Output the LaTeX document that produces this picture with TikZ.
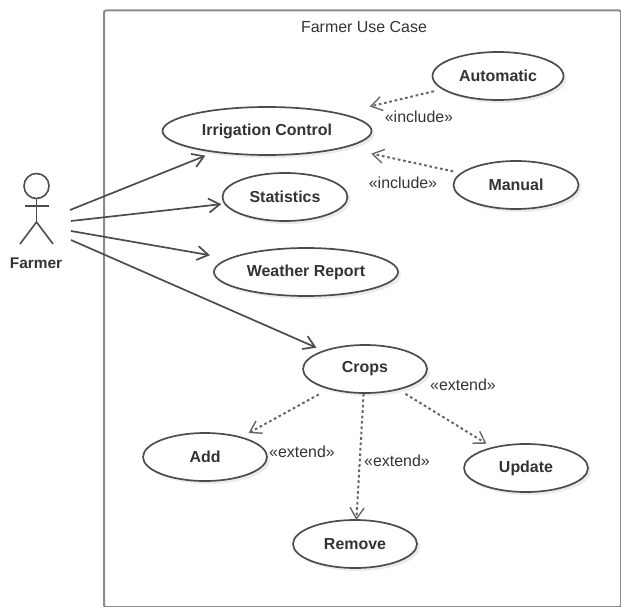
\documentclass[tikz,border=0pt]{standalone}
\usepackage{fontspec}
\setmainfont{Liberation Sans}
\usetikzlibrary{arrows.meta,shapes.geometric,shadows}
\definecolor{ink}{gray}{0.3}
\definecolor{txt}{gray}{0.2}
\definecolor{frameg}{gray}{0.55}
\tikzset{
  usecase/.style={ellipse,draw=ink,line width=1.7bp,fill=white,inner sep=0pt,outer sep=0pt,
    minimum height=48bp,text=txt,font=\fontsize{16}{18}\selectfont\bfseries,
    drop shadow={shadow xshift=3bp,shadow yshift=-3bp,fill=black,opacity=0.08}},
  assoc/.style={draw=ink,line width=1.7bp,-{Straight Barb[length=11bp,width=14bp,line width=1.7bp]}},
  relation/.style={draw=ink!85,line width=2bp,dash pattern=on 2.7bp off 2.7bp,-{Straight Barb[length=11bp,width=14bp,line width=1.4bp]}},
  stereo/.style={text=txt,font=\fontsize{16}{18}\selectfont,inner sep=0pt},
  actorline/.style={draw=ink,line width=1.6bp},
}
\begin{document}
\begin{tikzpicture}[x=1bp,y=-1bp]
\useasboundingbox (0,0) rectangle (621,607);
\node[draw=frameg,line width=2bp,rounded corners=2bp,minimum width=517bp,minimum height=596.5bp,inner sep=0pt,anchor=north west] (frame) at (103,9.5) {};
\node[stereo] (title) at (364,27) {Farmer Use Case};
% actor
\node[circle,draw=ink,line width=1.6bp,minimum size=25bp,inner sep=0pt] (head) at (36.5,186) {};
\coordinate (hip) at (36.5,222);
\coordinate (armL) at (25,206);
\coordinate (armR) at (49,206);
\coordinate (legL) at (20,244);
\coordinate (legR) at (53,244);
\draw[actorline] (head.south) -- (hip);
\draw[actorline] (armL) -- (armR);
\draw[actorline] (legL) -- (hip) -- (legR);
\node[text=txt,inner sep=0pt,font=\fontsize{15.5}{17}\selectfont\bfseries] (farmer) at (36,263) {Farmer};
% use cases
\node[usecase,minimum width=209bp] (irr) at (267,131) {Irrigation Control};
\node[usecase,minimum width=125bp] (stat) at (285,197) {Statistics};
\node[usecase,minimum width=184bp] (wea) at (306,272) {Weather Report};
\node[usecase,minimum width=131bp] (auto) at (498,76) {Automatic};
\node[usecase,minimum width=125bp] (man) at (516,185) {Manual};
\node[usecase,minimum width=124bp] (crops) at (365,369) {Crops};
\node[usecase,minimum width=124bp] (add) at (205,457) {Add};
\node[usecase,minimum width=124bp] (upd) at (526,468) {Update};
\node[usecase,minimum width=124bp] (rem) at (355,544) {Remove};
% actor connectors
\coordinate (f1) at (70,210);
\coordinate (f2) at (71,221);
\coordinate (f3) at (71,231);
\coordinate (f4) at (71,240);
\draw[assoc,shorten >=10.5bp] (f1) -- (irr);
\draw[assoc,shorten >=3.7bp] (f2) -- (stat);
\draw[assoc,shorten >=20bp] (f3) -- (wea);
\draw[assoc,shorten >=8.3bp] (f4) -- (crops);
% relations
\draw[relation,shorten <=9.4bp,shorten >=31bp] (auto) -- (irr);
\draw[relation,shorten <=8.6bp,shorten >=29bp] (man) -- (irr);
\draw[relation,shorten <=12bp,shorten >=9bp] (crops) -- (add);
\draw[relation,shorten <=1bp,shorten >=0bp] (crops) -- (rem);
\draw[relation,shorten <=8.7bp,shorten >=7.6bp] (crops) -- (upd);
% labels
\node[stereo] (l1) at (419,117) {«include»};
\node[stereo] (l2) at (403,183) {«include»};
\node[stereo] (l3) at (463,385) {«extend»};
\node[stereo] (l4) at (302,452) {«extend»};
\node[stereo] (l5) at (397,461) {«extend»};
\end{tikzpicture}
\end{document}
